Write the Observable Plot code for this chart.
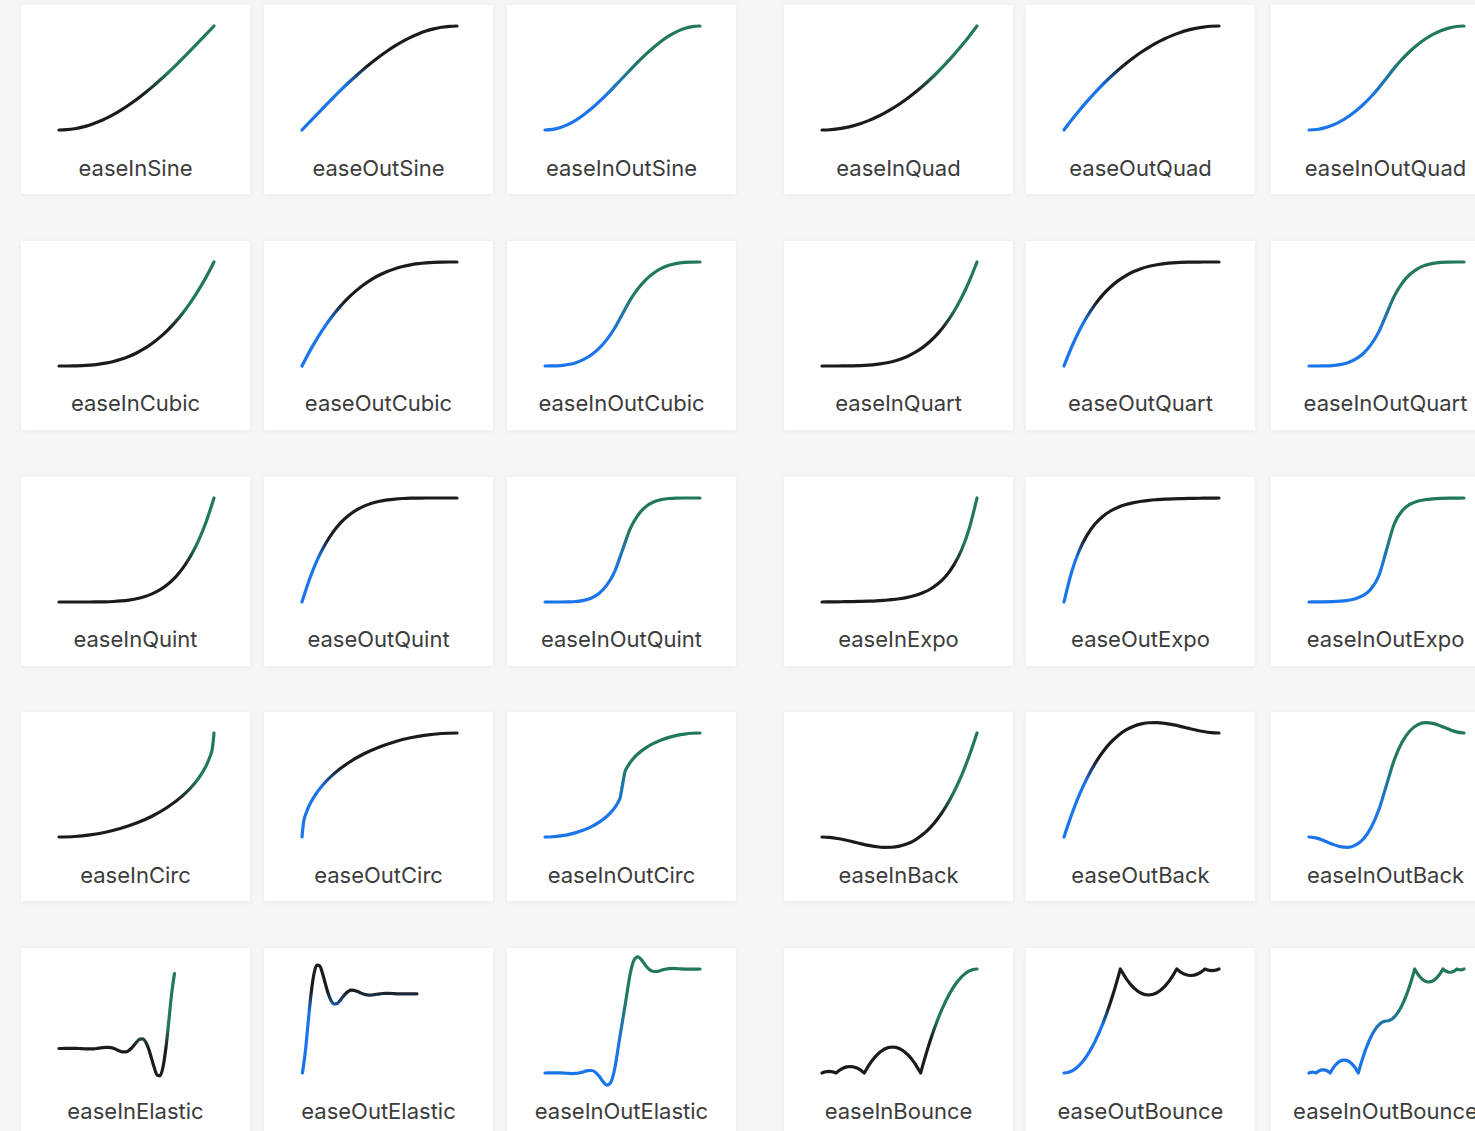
<!DOCTYPE html>
<html>
<head>
<meta charset="utf-8">
<script src="https://cdn.jsdelivr.net/npm/d3@7"></script>
<script src="https://cdn.jsdelivr.net/npm/@observablehq/plot@0.6"></script>
<style>
html, body { margin:0; padding:0; background:#f6f6f6; width:1475px; height:1131px; overflow:hidden; }
.card { position:absolute; width:229px; height:189px; background:#ffffff; box-shadow:0 1px 6px rgba(0,0,0,0.06); }
.card svg { position:absolute; left:0; top:0; overflow:visible; }
.label { position:absolute; left:0; width:229px; top:150.5px; text-align:center; white-space:nowrap;
  font-family:Inter, "Open Sans", "DejaVu Sans", sans-serif; font-size:22px; line-height:25px; color:#3c3c3c; }
</style>
</head>
<body>
<script>
// ---- sample positions (time) ----
const t21 = [0,.05,.1,.15,.2,.25,.3,.35,.4,.45,.5,.55,.6,.65,.7,.75,.8,.85,.9,.95,1];
const t41 = [0,.025,.05,.075,.1,.125,.15,.175,.2,.225,.25,.275,.3,.325,.35,.375,.4,.425,.45,.475,.5,.525,.55,.575,.6,.625,.65,.675,.7,.725,.75,.775,.8,.825,.85,.875,.9,.925,.95,.975,1];
const tCircIn = [0,.1,.2,.3,.4,.5,.6,.7,.8,.85,.9,.94,.97,.99,1];
const tCircOut = [0,.01,.03,.06,.1,.15,.2,.3,.4,.5,.6,.7,.8,.9,1];
const tCircInOut = [0,.05,.1,.15,.2,.25,.3,.35,.4,.425,.45,.47,.485,.5,.515,.53,.55,.575,.6,.65,.7,.75,.8,.85,.9,.95,1];
const tBounceIn = [0,.015,.03,.0455,.06,.075,.0909,.1,.12,.14,.16,.1818,.2,.225,.25,.2727,.3,.325,.35,.375,.4,.425,.4545,.475,.5,.525,.55,.575,.6,.6364,.65,.675,.7,.725,.75,.775,.8,.825,.85,.875,.9,.925,.95,.975,1];
const tBounceOut = [0,.025,.05,.075,.1,.125,.15,.175,.2,.225,.25,.275,.3,.325,.35,.3636,.4,.425,.45,.475,.5,.525,.5455,.575,.6,.625,.65,.675,.7,.7273,.75,.775,.8,.8182,.84,.86,.88,.9,.9091,.925,.94,.9545,.97,.985,1];
const tBounceInOut = [0,.0075,.015,.0227,.03,.0375,.0455,.05,.06,.07,.08,.0909,.1,.1125,.125,.1364,.15,.1625,.175,.1875,.2,.2125,.2273,.2375,.25,.2625,.275,.2875,.3,.3182,.325,.3375,.35,.3625,.375,.3875,.4,.4125,.425,.4375,.45,.4625,.475,.4875,.5,
  .5125,.525,.5375,.55,.5625,.575,.5875,.6,.6125,.625,.6375,.65,.6625,.675,.6818,.7,.7125,.725,.7375,.75,.7625,.7727,.7875,.8,.8125,.825,.8375,.85,.8636,.875,.8875,.9,.9091,.92,.93,.94,.95,.9545,.9625,.97,.9773,.985,.9925,1];

// ---- values (progress) ----
const inSine = [0,.003,.012,.028,.049,.076,.109,.147,.191,.240,.293,.351,.412,.478,.546,.617,.691,.767,.844,.922,1];
const outSine = [0,.078,.156,.233,.309,.383,.454,.522,.588,.649,.707,.760,.809,.853,.891,.924,.951,.972,.988,.997,1];
const inOutSine = [0,.006,.024,.054,.095,.146,.206,.273,.345,.422,.5,.578,.655,.727,.794,.854,.905,.946,.976,.994,1];
const inQuad = [0,.0025,.01,.0225,.04,.0625,.09,.1225,.16,.2025,.25,.3025,.36,.4225,.49,.5625,.64,.7225,.81,.9025,1];
const outQuad = [0,.0975,.19,.2775,.36,.4375,.51,.5775,.64,.6975,.75,.7975,.84,.8775,.91,.9375,.96,.9775,.99,.9975,1];
const inOutQuad = [0,.005,.02,.045,.08,.125,.18,.245,.32,.405,.5,.595,.68,.755,.82,.875,.92,.955,.98,.995,1];
const inCubic = [0,0,.001,.003,.008,.016,.027,.043,.064,.091,.125,.166,.216,.275,.343,.422,.512,.614,.729,.857,1];
const outCubic = [0,.143,.271,.386,.488,.578,.657,.725,.784,.834,.875,.909,.936,.957,.973,.984,.992,.997,.999,1,1];
const inOutCubic = [0,.001,.004,.014,.032,.063,.108,.172,.256,.365,.5,.636,.744,.829,.892,.938,.968,.987,.996,.999,1];
const inQuart = [0,0,0,.001,.002,.004,.008,.015,.026,.041,.063,.092,.13,.179,.24,.316,.41,.522,.656,.815,1];
const outQuart = [0,.185,.344,.478,.59,.684,.76,.821,.87,.908,.938,.959,.974,.985,.992,.996,.998,.999,1,1,1];
const inOutQuart = [0,0,.001,.004,.013,.031,.065,.12,.205,.328,.5,.672,.795,.88,.935,.969,.987,.996,.999,1,1];
const inQuint = [0,0,0,0,0,.001,.002,.005,.01,.018,.031,.05,.078,.116,.168,.237,.328,.444,.59,.774,1];
const outQuint = [0,.226,.41,.556,.672,.763,.832,.884,.922,.95,.969,.982,.99,.995,.998,.999,1,1,1,1,1];
const inOutQuint = [0,0,0,.001,.005,.016,.039,.084,.164,.295,.5,.705,.836,.916,.961,.984,.995,.999,1,1,1];
const inExpo = [0,.001,.002,.003,.004,.006,.008,.011,.016,.022,.031,.044,.063,.088,.125,.177,.25,.354,.5,.707,1];
const outExpo = [0,.293,.5,.646,.75,.823,.875,.912,.938,.956,.969,.978,.984,.989,.992,.994,.996,.997,.998,.999,1];
const inOutExpo = [0,.001,.002,.004,.008,.016,.031,.063,.125,.25,.5,.75,.875,.938,.969,.984,.992,.996,.998,.999,1];
const inCirc = [0,.005,.0202,.0461,.0835,.134,.2,.2859,.4,.4732,.5641,.6588,.7569,.8589,1];
const outCirc = [0,.1411,.2431,.3412,.4359,.5268,.6,.7141,.8,.866,.9165,.9539,.9798,.995,1];
const inOutCirc = [0,.0025,.0101,.0231,.0418,.067,.1,.143,.2,.2366,.282,.3294,.3785,.5,.6215,.6706,.718,.7634,.8,.857,.9,.933,.9582,.9769,.9899,.9975,1];
const inBack = [0,-.0039,-.0143,-.0292,-.0465,-.0641,-.0802,-.0926,-.0994,-.0984,-.0877,-.0653,-.029,.023,.0929,.1826,.2942,.4297,.5912,.7806,1];
const outBack = [0,.2194,.4088,.5703,.7058,.8174,.9071,.977,1.029,1.0653,1.0877,1.0984,1.0994,1.0926,1.0802,1.0641,1.0465,1.0292,1.0143,1.0039,1];
const inOutBack = [0,-.0112,-.0375,-.0682,-.0926,-.0997,-.0788,-.0192,.0899,.2594,.5,.7406,.9101,1.0192,1.0788,1.0997,1.0926,1.0683,1.0375,1.0112,1];
const inElastic = [0,0,.0007,.0014,.002,.002,.0014,0,-.002,-.004,-.0055,-.0057,-.0039,0,.0055,.0114,.0156,.0161,.011,0,-.0156,-.0322,-.0442,-.0455,-.0313,0,.0442,.091,.125,.1288,.0884,0,-.125,-.2575,-.3536,-.3641,-.25,0,.3536,.7282,1];
const outElastic = [0,.2718,.6464,1,1.25,1.3641,1.3536,1.2575,1.125,1,.9116,.8712,.875,.909,.9558,1,1.0313,1.0455,1.0442,1.0322,1.0156,1,.989,.9839,.9844,.9886,.9945,1,1.0039,1.0057,1.0055,1.004,1.002,1,.9986,.998,.998,.9986,.9993,1,1];
const inOutElastic = [0,.0005,.001,.0011,.0003,-.0014,-.0037,-.0052,-.0039,.0019,.012,.0221,.0239,.0077,-.0313,-.0831,-.1175,-.0884,.0434,.2708,.5,.7292,.9566,1.0884,1.1175,1.0831,1.0313,.9923,.9761,.9779,.988,.9981,1.0039,1.0052,1.0037,1.0014,.9997,.9989,.999,.9995,1];
const inBounce = [0,.0086,.0138,.0156,.014,.009,0,.0119,.0336,.0493,.0589,.0625,.06,.0484,.0273,0,.0694,.1231,.1673,.2021,.2275,.2434,.25,.2468,.2344,.2125,.1811,.1403,.09,0,.0736,.2012,.3194,.4281,.5273,.6171,.6975,.7684,.8298,.8818,.9244,.9575,.9811,.9953,1];
const outBounce = [0,.0047,.0189,.0425,.0756,.1182,.1702,.2316,.3025,.3829,.4727,.5719,.6806,.7988,.9264,1,.91,.8597,.8189,.7875,.7656,.7532,.75,.7566,.7725,.7979,.8327,.8769,.9306,1,.9727,.9516,.94,.9375,.9411,.9507,.9664,.9881,1,.991,.986,.9844,.9862,.9914,1];
const inOutBounce = [0,.0043,.0069,.0078,.007,.0045,0,.006,.0168,.0247,.0295,.0313,.03,.0242,.0137,0,.0347,.0616,.0837,.1011,.1138,.1217,.125,.1234,.1172,.1063,.0906,.0702,.045,0,.0368,.1006,.1597,.2141,.2637,.3086,.3488,.3842,.4149,.4409,.4622,.4788,.4906,.4977,.5,
  .5024,.5095,.5213,.5378,.5591,.5851,.6158,.6513,.6915,.7364,.786,.8403,.8994,.9632,1,.955,.9299,.9095,.8938,.8828,.8766,.875,.8783,.8863,.899,.9164,.9385,.9653,1,.9864,.9758,.97,.9688,.9706,.9754,.9832,.9941,1,.9955,.993,.9922,.9931,.9957,1];

// ---- names (row-major, 6 per row) ----
const names = [
  "easeInSine","easeOutSine","easeInOutSine","easeInQuad","easeOutQuad","easeInOutQuad",
  "easeInCubic","easeOutCubic","easeInOutCubic","easeInQuart","easeOutQuart","easeInOutQuart",
  "easeInQuint","easeOutQuint","easeInOutQuint","easeInExpo","easeOutExpo","easeInOutExpo",
  "easeInCirc","easeOutCirc","easeInOutCirc","easeInBack","easeOutBack","easeInOutBack",
  "easeInElastic","easeOutElastic","easeInOutElastic","easeInBounce","easeOutBounce","easeInOutBounce"
];
const series = [
  [t21,inSine],[t21,outSine],[t21,inOutSine],[t21,inQuad],[t21,outQuad],[t21,inOutQuad],
  [t21,inCubic],[t21,outCubic],[t21,inOutCubic],[t21,inQuart],[t21,outQuart],[t21,inOutQuart],
  [t21,inQuint],[t21,outQuint],[t21,inOutQuint],[t21,inExpo],[t21,outExpo],[t21,inOutExpo],
  [tCircIn,inCirc],[tCircOut,outCirc],[tCircInOut,inOutCirc],[t21,inBack],[t21,outBack],[t21,inOutBack],
  [t41,inElastic],[t41,outElastic],[t41,inOutElastic],[tBounceIn,inBounce],[tBounceOut,outBounce],[tBounceInOut,inOutBounce]
];

// ---- layout & style ----
const colLeft = [21, 264, 507, 784, 1026, 1271];
const rowTop = [5, 240.8, 476.6, 712.4, 948.2];
const BLUE = "#1a74ea", GREEN = "#21795a", BLACK = "#1b1b1b";
const defaultX = [37.5, 192.5], defaultY = [124.5, 20.5];
const special = {
  easeInElastic: {x:[37.5,153], y:[100,25], c:.37},
  easeOutElastic: {x:[38,152.5], y:[124.3,45.3], c:.66},
  easeInBack: {c:.37},
  easeOutBack: {c:.58},
  easeOutCirc: {c:.57},
  easeOutBounce: {c:.55},
  easeInBounce: {c:.42}
};
const ns = "http://www.w3.org/2000/svg";

names.forEach((name, i) => {
  const [tt, vv] = series[i];
  const data = tt.map((t, j) => ({t, v: vv[j]}));
  const sp = special[name] || {};
  const xr = sp.x || defaultX, yr = sp.y || defaultY;
  const kind = name.startsWith("easeInOut") ? "inout" : name.startsWith("easeIn") ? "in" : "out";
  const isBounce = name.endsWith("Bounce");

  const card = document.createElement("div");
  card.className = "card";
  card.style.left = colLeft[i % 6] + "px";
  card.style.top = rowTop[Math.floor(i / 6)] + "px";
  document.body.appendChild(card);

  const svg = Plot.plot({
    width: 229, height: 150, margin: 0,
    style: {background: "transparent", overflow: "visible"},
    x: {domain: [0, 1], range: xr, axis: null},
    y: {domain: [0, 1], range: yr, axis: null},
    marks: [
      Plot.line(data, {x: "t", y: "v", curve: isBounce ? "linear" : "monotone-x",
        stroke: "black", strokeWidth: 3.2, strokeLinecap: "round", strokeLinejoin: "round"})
    ]
  });

  // vertical gradient spanning the curve's extent
  const yPix = v => yr[0] + v * (yr[1] - yr[0]);
  const yb = yPix(d3.min(vv)), ytop = yPix(d3.max(vv));
  const id = "grad" + i;
  const defs = document.createElementNS(ns, "defs");
  const lg = document.createElementNS(ns, "linearGradient");
  lg.setAttribute("id", id);
  lg.setAttribute("gradientUnits", "userSpaceOnUse");
  lg.setAttribute("x1", 0); lg.setAttribute("x2", 0);
  lg.setAttribute("y1", yb); lg.setAttribute("y2", ytop);
  let stops;
  if (kind === "in") { const c = sp.c || .45; stops = [[0, BLACK], [c - .1, BLACK], [c + .1, GREEN], [1, GREEN]]; }
  else if (kind === "out") { const c = sp.c || .52; stops = [[0, BLUE], [c - .1, BLUE], [c + .1, BLACK], [1, BLACK]]; }
  else { stops = [[0, BLUE], [.3, BLUE], [.7, GREEN], [1, GREEN]]; }
  stops.forEach(([o, col]) => {
    const s = document.createElementNS(ns, "stop");
    s.setAttribute("offset", o); s.setAttribute("stop-color", col);
    lg.appendChild(s);
  });
  defs.appendChild(lg);
  svg.insertBefore(defs, svg.firstChild);
  svg.querySelectorAll("g[aria-label='line'], g[aria-label='line'] path").forEach(el => el.setAttribute("stroke", `url(#${id})`));
  card.appendChild(svg);

  const label = document.createElement("div");
  label.className = "label";
  label.textContent = name;
  card.appendChild(label);
});
</script>
</body>
</html>
